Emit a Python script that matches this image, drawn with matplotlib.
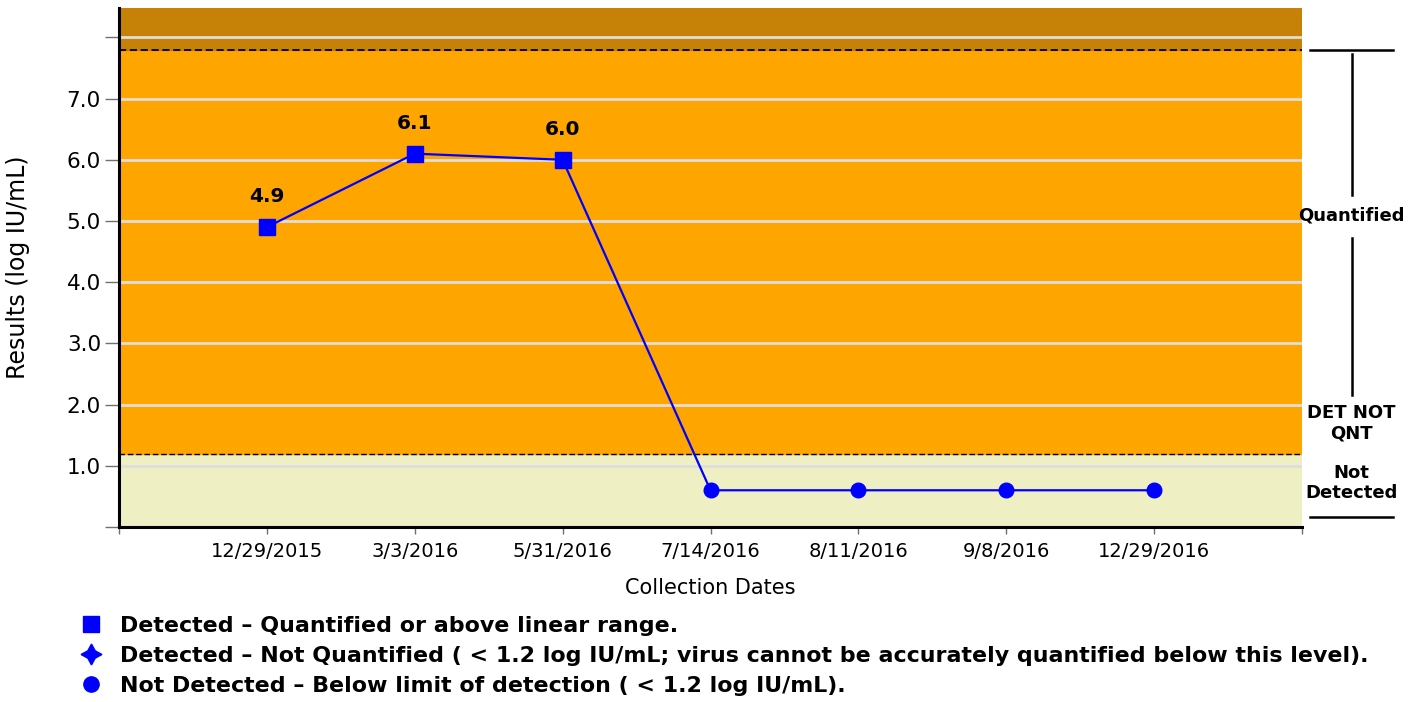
import matplotlib
matplotlib.use('Agg')
import matplotlib.pyplot as plt
from matplotlib.lines import Line2D
import matplotlib.transforms as mtransforms

plt.rcParams['font.family'] = ['DejaVu Sans']

# data
dates = ['12/29/2015', '3/3/2016', '5/31/2016', '7/14/2016', '8/11/2016', '9/8/2016', '12/29/2016']
results = [4.9, 6.1, 6.0, 0.6, 0.6, 0.6, 0.6]
detected = [True, True, True, False, False, False, False]
point_labels = ['4.9', '6.1', '6.0', '', '', '', '']
lower_limit = 1.2
upper_limit = 7.8
y_top = 8.48
y_ticks = [0, 1, 2, 3, 4, 5, 6, 7, 8]
y_ticklabels = ['', '1.0', '2.0', '3.0', '4.0', '5.0', '6.0', '7.0', '']

fig = plt.figure(figsize=(14.2, 7.02), dpi=100)
ax = fig.add_axes([119/1420, 1-527/702, 1183/1420, 519/702])

x = list(range(len(dates)))
ax.set_xlim(-1, len(dates))
ax.set_ylim(0, y_top)

# background bands
ax.axhspan(0, lower_limit, color='#EEEFC2', zorder=0)
ax.axhspan(lower_limit, upper_limit, color='#FFA500', zorder=0)
ax.axhspan(upper_limit, y_top, color='#C68207', zorder=0)
for yy in y_ticks[1:]:
    ax.axhline(yy, color='#DEDEDE', lw=2, zorder=1)
ax.axhline(lower_limit, color='black', lw=1, ls=(0, (4, 2)), zorder=2)
ax.axhline(upper_limit, color='black', lw=1.3, ls=(0, (4, 2)), zorder=2)

# line + markers
ax.plot(x, results, color='#0000FF', lw=1.6, zorder=3)
xd = [xi for xi, d in zip(x, detected) if d]
yd = [r for r, d in zip(results, detected) if d]
xn = [xi for xi, d in zip(x, detected) if not d]
yn = [r for r, d in zip(results, detected) if not d]
ax.plot(xd, yd, 's', color='#0000FF', ms=11.5, zorder=4)
ax.plot(xn, yn, 'o', color='#0000FF', ms=10.5, zorder=4)
for xi, r, lab in zip(x, results, point_labels):
    if lab:
        ax.annotate(lab, (xi, r), xytext=(0, 15), textcoords='offset points',
                    ha='center', va='bottom', fontsize=14.5, fontweight='bold')

# axes styling
for s in ['top', 'right']:
    ax.spines[s].set_visible(False)
ax.spines['left'].set_linewidth(2.2)
ax.spines['bottom'].set_linewidth(2.2)
ax.set_yticks(y_ticks)
ax.set_yticklabels(y_ticklabels, fontsize=15.5)
ax.tick_params(axis='y', length=10, width=1, color='#707070', pad=3)
ax.set_xticks([-1] + x + [len(dates)])
ax.set_xticklabels([''] + dates + [''], fontsize=14)
ax.tick_params(axis='x', length=5, width=1, color='#707070', pad=6)
ax.set_ylabel('Results (log IU/mL)', fontsize=17)
ax.yaxis.set_label_coords(-0.075, 0.5)
ax.set_xlabel('Collection Dates', fontsize=15, labelpad=12)

# right side range annotations
tr = mtransforms.blended_transform_factory(ax.transAxes, ax.transData)
def seg(xs, ys):
    ax.add_line(Line2D(xs, ys, color='black', lw=1.8, transform=tr, clip_on=False))
seg([1.007, 1.077], [upper_limit, upper_limit])
seg([1.007, 1.077], [0.17, 0.17])
seg([1.042, 1.042], [7.73, 5.42])
seg([1.042, 1.042], [4.72, 2.16])
ax.text(1.042, 5.09, 'Quantified', transform=tr, ha='center', va='center',
        fontsize=13, fontweight='bold')
ax.text(1.042, 1.7, 'DET NOT\nQNT', transform=tr, ha='center', va='center',
        fontsize=13, fontweight='bold', linespacing=1.15)
ax.text(1.042, 0.72, 'Not\nDetected', transform=tr, ha='center', va='center',
        fontsize=13, fontweight='bold', linespacing=1.15)

# legend
handles = [
    Line2D([], [], ls='none', marker='s', color='#0000FF', ms=12),
    Line2D([], [], ls='none', marker=(4, 1, 0), color='#0000FF', ms=15),
    Line2D([], [], ls='none', marker='o', color='#0000FF', ms=11),
]
labels = [
    'Detected \u2013 Quantified or above linear range.',
    'Detected \u2013 Not Quantified ( < 1.2 log IU/mL; virus cannot be accurately quantified below this level).',
    'Not Detected \u2013 Below limit of detection ( < 1.2 log IU/mL).',
]
fig.legend(handles, labels, loc='upper left', bbox_to_anchor=(67/1420, 1-605/702),
           frameon=False, prop={'size': 15.9, 'weight': 'bold'},
           handlelength=1.2, handletextpad=0.7, labelspacing=0.45, borderpad=0)

fig.savefig('out.png', dpi=100)
